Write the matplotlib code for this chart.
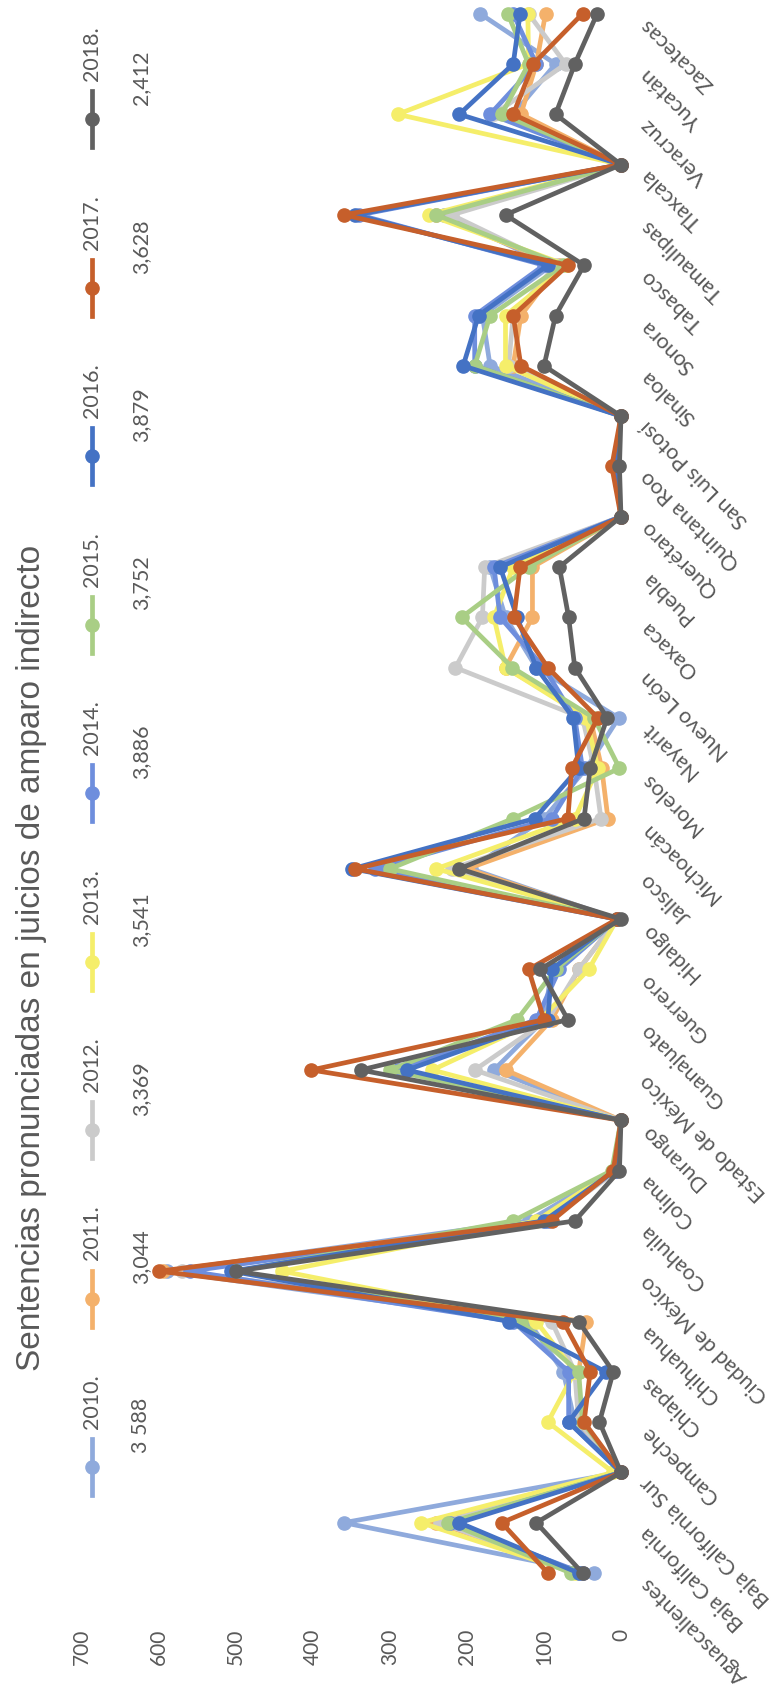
import matplotlib
matplotlib.use("Agg")
import matplotlib.pyplot as plt
from matplotlib.lines import Line2D
import matplotlib.transforms as mtransforms

# Sentences issued in indirect amparo trials, by state and year
states = [
    "Aguascalientes", "Baja California", "Baja California Sur", "Campeche",
    "Chiapas", "Chihuahua", "Ciudad de México", "Coahuila", "Colima",
    "Durango", "Estado de México", "Guanajuato", "Guerrero", "Hidalgo",
    "Jalisco", "Michoacán", "Morelos", "Nayarit", "Nuevo León", "Oaxaca",
    "Puebla", "Querétaro", "Quintana Roo", "San Luis Potosí", "Sinaloa",
    "Sonora", "Tabasco", "Tamaulipas", "Tlaxcala", "Veracruz", "Yucatán",
    "Zacatecas",
]

years = ["2010.", "2011.", "2012.", "2013.", "2014.", "2015.", "2016.", "2017.", "2018."]
totals = ["3 588", "3,044", "3,369", "3,541", "3,886", "3,752", "3,879", "3,628", "2,412"]

y2010 = [35, 360, 0, 60, 75, 120, 590, 120, 10, 0, 165, 100, 90, 5, 195, 100,
         45, 3, 110, 150, 170, 0, 8, 0, 170, 180, 90, 230, 0, 140, 85, 183]
y2011 = [50, 240, 0, 55, 55, 45, 595, 95, 10, 0, 150, 90, 55, 5, 200, 17,
         25, 40, 150, 115, 115, 0, 8, 0, 140, 130, 80, 240, 0, 130, 110, 98]
y2012 = [55, 235, 0, 55, 60, 90, 570, 95, 5, 0, 190, 95, 55, 5, 220, 26,
         35, 50, 215, 180, 177, 0, 8, 0, 146, 140, 85, 220, 0, 165, 72, 120]
y2013 = [60, 260, 10, 95, 60, 110, 440, 110, 10, 0, 245, 105, 42, 5, 240, 60,
         30, 45, 150, 165, 140, 0, 8, 0, 150, 150, 70, 250, 0, 290, 120, 121]
y2014 = [50, 222, 0, 68, 68, 140, 560, 95, 8, 0, 290, 110, 80, 5, 320, 90,
         50, 60, 100, 157, 165, 0, 8, 0, 190, 190, 100, 340, 0, 170, 110, 140]
y2015 = [65, 225, 0, 50, 55, 130, 500, 140, 12, 0, 300, 135, 85, 5, 300, 140,
         2, 35, 141, 207, 120, 0, 8, 0, 190, 170, 75, 240, 0, 155, 120, 147]
y2016 = [55, 210, 0, 68, 20, 145, 506, 100, 8, 0, 278, 95, 90, 5, 349, 112,
         55, 62, 110, 135, 157, 0, 8, 0, 205, 185, 95, 345, 0, 210, 140, 131]
y2017 = [95, 155, 0, 48, 40, 75, 600, 90, 10, 0, 402, 100, 120, 5, 345, 69,
         64, 30, 95, 139, 131, 0, 12, 0, 130, 140, 69, 360, 0, 140, 114, 50]
y2018 = [50, 110, 0, 28, 10, 55, 500, 60, 2, 0, 338, 69, 105, 0, 210, 48,
         40, 18, 60, 68, 80, 0, 2, 0, 100, 85, 48, 150, 0, 85, 60, 31]

series = [y2010, y2011, y2012, y2013, y2014, y2015, y2016, y2017, y2018]
colors = ["#8FAADC", "#F4B16B", "#CBCBCB", "#F5EE6A", "#6E8EDD",
          "#A9CE85", "#4472C4", "#C65F2B", "#616161"]

value_ticks = [0, 100, 200, 300, 400, 500, 600, 700]

TEXT = "#595959"
SMALL_FONT = ["Lato", "DejaVu Sans"]
TITLE_FONT = ["Liberation Sans", "DejaVu Sans"]

W, H = 783, 1688
fig = plt.figure(figsize=(W / 100, H / 100), dpi=100)
fig.patch.set_facecolor("white")

# The chart is laid out turned a quarter-turn: values run right-to-left,
# states run bottom-to-top.
x0_px, x700_px = 621, 82
y_first, step = 1573, 50.3
top_px = y_first - 31.5 * step
bot_px = y_first + 0.5 * step
ax = fig.add_axes([x700_px / W, 1 - bot_px / H,
                   (x0_px - x700_px) / W, (bot_px - top_px) / H])
ax.set_xlim(700, 0)
ax.set_ylim(-0.5, 31.5)
for sp in ax.spines.values():
    sp.set_visible(False)

LW, MS = 3.4, 9.5
idx = list(range(len(states)))
for vals, col in zip(series, colors):
    ax.plot(vals, idx, color=col, lw=LW, marker="o", ms=MS,
            markerfacecolor=col, markeredgecolor=col, solid_joinstyle="round",
            clip_on=False)

ax.set_xticks(value_ticks)
ax.set_xticklabels([str(v) for v in value_ticks], rotation=90,
                   fontsize=15, color=TEXT, family=SMALL_FONT)
ax.tick_params(axis="x", length=0, pad=22)
ax.set_yticks([])

# State names, slanted, ending next to their row
blend = mtransforms.blended_transform_factory(fig.transFigure, ax.transData)
for i, name in enumerate(states):
    ax.text(644 / W, i - 0.15, name, transform=blend, rotation=135,
            rotation_mode="anchor", ha="right", va="center",
            fontsize=15.5, color=TEXT, family=SMALL_FONT)

# Title
fig.text(32 / W, 1 - 958 / H,
         "Sentencias pronunciadas en juicios de amparo indirecto",
         rotation=90, ha="center", va="center", fontsize=24,
         color=TEXT, family=TITLE_FONT)

# Legend: one column of entries with yearly totals
leg_x, val_x = 92, 141
for k, (yr, tot, col) in enumerate(zip(years, totals, colors)):
    yc = 1467 - k * 168.5
    fig.add_artist(Line2D([leg_x / W, leg_x / W],
                          [1 - (yc + 28) / H, 1 - (yc - 28) / H],
                          transform=fig.transFigure, color=col, lw=LW))
    fig.add_artist(Line2D([leg_x / W], [1 - yc / H], transform=fig.transFigure,
                          marker="o", ms=MS, color=col))
    fig.text(leg_x / W, 1 - (yc - 38) / H, yr, rotation=90,
             rotation_mode="anchor", ha="left", va="center",
             fontsize=15.5, color=TEXT, family=SMALL_FONT)
    fig.text(val_x / W, 1 - (yc - 14) / H, tot, rotation=90,
             rotation_mode="anchor", ha="left", va="center",
             fontsize=15.5, color=TEXT, family=SMALL_FONT)

fig.savefig("out.png", dpi=100, facecolor="white")
